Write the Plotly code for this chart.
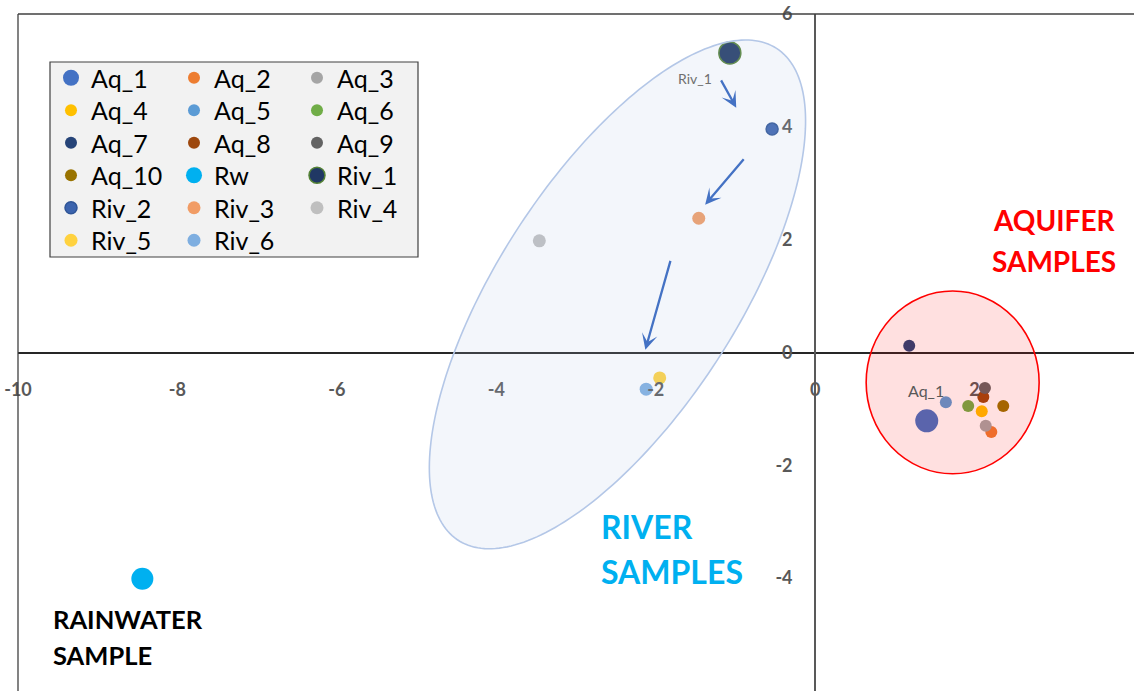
import numpy as np
import plotly.graph_objects as go

# Sample scores on the two components
names = ["Aq_1", "Aq_2", "Aq_3", "Aq_4", "Aq_5", "Aq_6", "Aq_7", "Aq_8", "Aq_9", "Aq_10",
         "Rw", "Riv_1", "Riv_2", "Riv_3", "Riv_4", "Riv_5", "Riv_6"]
x_vals = [1.40, 2.21, 2.14, 2.09, 1.64, 1.92, 1.18, 2.11, 2.13, 2.36,
          -8.44, -1.07, -0.54, -1.46, -3.46, -1.95, -2.12]
y_vals = [-1.21, -1.41, -1.30, -1.04, -0.88, -0.95, 0.12, -0.79, -0.63, -0.95,
          -4.01, 5.31, 3.96, 2.38, 1.98, -0.45, -0.65]

colors = ["#4472C4", "#ED7D31", "#A5A5A5", "#FFC000", "#5B9BD5", "#70AD47", "#264478",
          "#9E480E", "#636363", "#997300", "#00B0F0", "#203864", "#3C64AE", "#F19C65",
          "#BFBFBF", "#FFD23F", "#7EAEE0"]
line_colors = [None] * 11 + ["#548235", "#2F5597", None, None, None, None]
sizes = [23, 12, 12, 12, 12, 12, 12, 12, 12, 12, 22, 22, 12, 13, 13, 13, 13]

x_ticks = [-10, -8, -6, -4, -2, 0, 2, 4]
x_tick_text = ["-10", "-8", "-6", "-4", "-2", "0", "2", "4"]
y_ticks = [-6, -4, -2, 0, 2, 4, 6]
y_tick_text = ["-6", "-4", "-2", "0", "2", "4", "6"]
x_range = [-10, 4]
y_range = [-6, 6]

FONT = "Lato"
TICK_GREY = "#595959"

# figure geometry (px)
W, H = 1134, 691
ML, MT = 18, 14
PW, PH = W - ML, H - MT

def px_to_paper_x(px):
    return (px - ML) / PW

def px_to_paper_y(py):
    return 1 - (py - MT) / PH

fig = go.Figure()

# legend laid out as 6 rows of 3 entries each
N_COLS = 3
row_centres = [78, 110.5, 143, 175.5, 208, 240.5]
legend_ids = ["legend"] + [f"legend{k}" for k in range(2, 7)]

for i, name in enumerate(names):
    lc = line_colors[i]
    fig.add_trace(go.Scatter(
        x=[x_vals[i]], y=[y_vals[i]], mode="markers", name=name,
        legend=legend_ids[i // N_COLS],
        marker=dict(color=colors[i], size=sizes[i],
                    line=dict(color=lc if lc else colors[i], width=1.5 if lc else 0)),
        hoverinfo="name+x+y",
    ))

# River group envelope (rotated ellipse): centre plus conjugate semi-axis vectors
ell_c = (-2.48, 1.03)
ell_u = (1.996, 4.36)
ell_v = (-1.259, 1.150)
t = np.linspace(0, 2 * np.pi, 240)
ex = ell_c[0] + ell_u[0] * np.cos(t) + ell_v[0] * np.sin(t)
ey = ell_c[1] + ell_u[1] * np.cos(t) + ell_v[1] * np.sin(t)
ell_path = "M " + " L ".join(f"{a:.4f},{b:.4f}" for a, b in zip(ex, ey)) + " Z"

shapes = [
    dict(type="path", path=ell_path, xref="x", yref="y", layer="above",
         fillcolor="rgba(180,199,231,0.16)", line=dict(color="#B4C7E7", width=1.6)),
    dict(type="circle", xref="x", yref="y", x0=0.64, x1=2.81, y0=-2.15, y1=1.09,
         layer="above", fillcolor="rgba(255,0,0,0.12)", line=dict(color="#FF0000", width=1.6)),
    # plot frame (top and left edges)
    dict(type="line", xref="paper", yref="paper", x0=0, x1=1, y0=1, y1=1,
         line=dict(color="#404040", width=1.3)),
    dict(type="line", xref="paper", yref="paper", x0=0, x1=0, y0=0, y1=1,
         line=dict(color="#404040", width=1.3)),
    # legend box
    dict(type="rect", xref="paper", yref="paper",
         x0=px_to_paper_x(50), x1=px_to_paper_x(418),
         y0=px_to_paper_y(257), y1=px_to_paper_y(62),
         fillcolor="#F2F2F2", line=dict(color="#404040", width=1.2), layer="below"),
]

ARROW = "#4472C4"
annotations = []
for (hx, hy, tx, ty) in [(-0.99, 4.34, -1.19, 4.85),
                         (-1.38, 2.62, -0.88, 3.45),
                         (-2.13, 0.05, -1.81, 1.65)]:
    annotations.append(dict(x=hx, y=hy, ax=tx, ay=ty, xref="x", yref="y", axref="x", ayref="y",
                            text="", showarrow=True, arrowhead=3, arrowsize=1.15,
                            arrowwidth=2.3, arrowcolor=ARROW, standoff=0))

def label(x, y, text, size, color, bold=False, xanchor="center"):
    annotations.append(dict(x=x, y=y, xref="x", yref="y", text=text, showarrow=False,
                            xanchor=xanchor, yanchor="middle",
                            font=dict(family=FONT, size=size, color=color,
                                      weight="bold" if bold else "normal")))

label(-1.51, 4.85, "Riv_1", 14, "#6F6F6F")
label(1.39, -0.67, "Aq_1", 16, "#595959")
label(3.0, 2.34, "AQUIFER", 28, "#FF0000", bold=True)
label(3.0, 1.62, "SAMPLES", 28, "#FF0000", bold=True)
label(-2.71, -3.08, "RIVER", 32, "#00B0F0", bold=True, xanchor="left")
label(-2.71, -3.88, "SAMPLES", 32, "#00B0F0", bold=True, xanchor="left")
label(-9.59, -4.72, "RAINWATER", 25.5, "#000000", bold=True, xanchor="left")
label(-9.59, -5.36, "SAMPLE", 25.5, "#000000", bold=True, xanchor="left")

x_pos = (0 - y_range[0]) / (y_range[1] - y_range[0])
y_pos = (0 - x_range[0]) / (x_range[1] - x_range[0])

tickfont = dict(family=FONT, size=18, color=TICK_GREY, weight="bold")
legend_font = dict(family=FONT, size=25, color="#000000")

legends = {}
for r, lid in enumerate(legend_ids):
    legends[lid] = dict(orientation="h", bgcolor="rgba(0,0,0,0)", borderwidth=0,
                        font=legend_font, itemsizing="trace",
                        entrywidth=78, entrywidthmode="pixels",
                        x=px_to_paper_x(51), xanchor="left",
                        y=px_to_paper_y(row_centres[r]), yanchor="middle")

fig.update_layout(
    width=W, height=H,
    margin=dict(l=ML, r=0, t=MT, b=0),
    paper_bgcolor="white", plot_bgcolor="white",
    showlegend=True,
    xaxis=dict(range=x_range, tickvals=x_ticks, ticktext=x_tick_text,
               anchor="free", position=x_pos,
               showgrid=False, zeroline=False, showline=True, linecolor="#262626",
               linewidth=1.5, ticks="", tickfont=tickfont, ticklabelstandoff=21,
               fixedrange=True),
    yaxis=dict(range=y_range, tickvals=y_ticks, ticktext=y_tick_text,
               anchor="free", position=y_pos,
               showgrid=False, zeroline=False, showline=True, linecolor="#595959",
               linewidth=2, ticks="", tickfont=tickfont, ticklabelstandoff=18,
               fixedrange=True),
    shapes=shapes,
    annotations=annotations,
    **legends,
)

fig.write_html("out.html")
